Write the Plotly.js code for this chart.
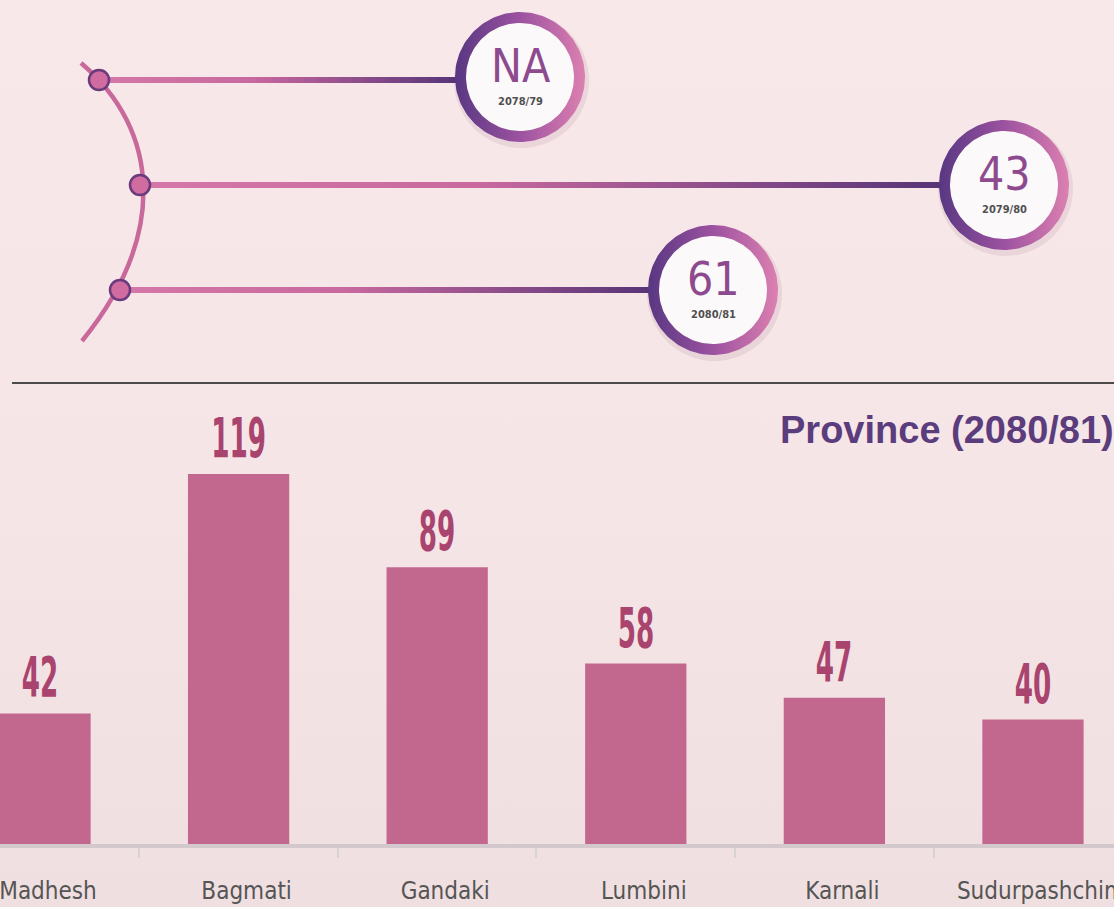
<!DOCTYPE html>
<html><head><meta charset="utf-8">
<script src="https://cdn.plot.ly/plotly-3.0.1.min.js"></script>
<style>html,body{margin:0;padding:0;} body{background:linear-gradient(#f9e8ea 0%,#f6e5e7 55%,#f0dfe0 100%);} #chart{width:1114px;height:907px;}</style>
</head><body><div id="chart"></div>
<script>
// ---- data ----
const provinces = ['Madhesh','Bagmati','Gandaki','Lumbini','Karnali','Sudurpashchim'];
const provinceValues = [42,119,89,58,47,40];
const periods = ['2078/79','2079/80','2080/81'];
const periodLabels = ['NA','43','61'];
const chartTitle = 'Province (2080/81)';

// ---- decoration geometry (pixels) ----
const W = 1114, H = 907;
const badgeCenters = [[520,77],[1004,185],[713,290]];
const dotCenters = [[99,80],[140,185],[120,290]];
const R_OUT = 65, R_IN = 54;
const NARROW = 'Liberation Sans Narrow, DejaVu Sans Condensed, Arial Narrow, sans-serif';

const traces = [];
traces.push({type:'bar', x:provinces, y:provinceValues, width:0.51,
  marker:{color:'#c2688f', line:{width:0}}, hoverinfo:'skip', xaxis:'x', yaxis:'y'});

// connector lines with gradient
badgeCenters.forEach((c,i)=>{
  const d = dotCenters[i];
  const x1 = c[0]-R_OUT+4, h = 3;
  traces.push({type:'scatter', mode:'lines', x:[d[0],x1,x1,d[0],d[0]],
    y:[d[1]-h,d[1]-h,d[1]+h,d[1]+h,d[1]-h], fill:'toself',
    fillgradient:{type:'horizontal', colorscale:[[0,'#d577a8'],[0.42,'#c9699f'],[1,'#563477']]},
    line:{width:0}, hoverinfo:'skip', xaxis:'x2', yaxis:'y2'});
});

// badge rings with gradient
badgeCenters.forEach((c)=>{
  const xs=[], ys=[], N=160;
  for(let k=0;k<=N;k++){const a=2*Math.PI*k/N; xs.push(c[0]+R_OUT*Math.cos(a)); ys.push(c[1]+R_OUT*Math.sin(a));}
  for(let k=N;k>=0;k--){const a=2*Math.PI*k/N; xs.push(c[0]+R_IN*Math.cos(a)); ys.push(c[1]+R_IN*Math.sin(a));}
  traces.push({type:'scatter', mode:'lines', x:xs, y:ys, fill:'toself',
    fillgradient:{type:'horizontal', colorscale:[[0,'#583782'],[0.5,'#9c52a0'],[1,'#dc80b0']]},
    line:{width:0}, hoverinfo:'skip', xaxis:'x2', yaxis:'y2'});
});

const shapes = [];
// separator
shapes.push({type:'line', xref:'x2', yref:'y2', x0:12, x1:W, y0:383, y1:383, line:{color:'#4d4a4b', width:2}, layer:'above'});
// badge shadows + white discs
badgeCenters.forEach((c)=>{
  shapes.push({type:'circle', xref:'x2', yref:'y2', x0:c[0]-R_OUT-1, x1:c[0]+R_OUT+4, y0:c[1]-R_OUT+1, y1:c[1]+R_OUT+6,
    fillcolor:'rgba(110,60,90,0.10)', line:{width:0}, layer:'below'});
  shapes.push({type:'circle', xref:'x2', yref:'y2', x0:c[0]-R_OUT+2, x1:c[0]+R_OUT-2, y0:c[1]-R_OUT+2, y1:c[1]+R_OUT-2,
    fillcolor:'#fcf9fa', line:{width:0}, layer:'below'});
});
// arc
shapes.push({type:'path', xref:'x2', yref:'y2', path:'M 81 63 C 160 130, 168 235, 82 341',
  line:{color:'#c8689b', width:4.5}, layer:'above'});
// dots
dotCenters.forEach((d)=>{
  shapes.push({type:'circle', xref:'x2', yref:'y2', x0:d[0]-10, x1:d[0]+10, y0:d[1]-10, y1:d[1]+10,
    fillcolor:'#d06c9f', line:{color:'#6a3a7c', width:2.5}, layer:'above'});
});

const annotations = [];
provinces.forEach((p,i)=>{
  annotations.push({xref:'x', yref:'y', x:p, y:provinceValues[i], text:String(provinceValues[i]),
    showarrow:false, yanchor:'bottom', xanchor:'center', yshift:2,
    font:{family:NARROW, size:56, color:'#a9446f', weight:'bold'}});
});
badgeCenters.forEach((c,i)=>{
  annotations.push({xref:'x2', yref:'y2', x:c[0], y:c[1]-11, text:periodLabels[i], showarrow:false,
    xanchor:'center', yanchor:'middle', font:{family:NARROW, size:46, color:'#8e4a8f'}});
  annotations.push({xref:'x2', yref:'y2', x:c[0], y:c[1]+24, text:periods[i], showarrow:false,
    xanchor:'center', yanchor:'middle', font:{family:NARROW, size:11, color:'#505050', weight:'bold'}});
});
annotations.push({xref:'x2', yref:'y2', x:778, y:430, text:chartTitle, showarrow:false,
  xanchor:'left', yanchor:'middle', font:{family:'Liberation Sans, Arial, sans-serif', size:38, color:'#5b3c7c', weight:'bold'}});

const layout = {
  width:W, height:H, margin:{l:0,r:0,t:0,b:0,pad:0},
  paper_bgcolor:'rgba(0,0,0,0)', plot_bgcolor:'rgba(0,0,0,0)', showlegend:false,
  xaxis:{type:'category', categoryorder:'array', categoryarray:provinces, range:[-0.2014,5.408],
    domain:[0,1], anchor:'y', showline:true, linecolor:'rgba(200,194,196,0.75)', linewidth:4,
    ticks:'outside', tickson:'boundaries', ticklen:10, tickwidth:2, tickcolor:'#d9d2d3',
    showgrid:false, zeroline:false, ticklabelstandoff:22, ticklabelshift:8,
    tickfont:{family:NARROW, size:24, color:'#555'}, fixedrange:true},
  yaxis:{domain:[63/907,1], range:[0,844/3.11], visible:false, anchor:'x', fixedrange:true},
  xaxis2:{domain:[0,1], range:[0,W], visible:false, anchor:'y2', fixedrange:true},
  yaxis2:{domain:[0,1], range:[H,0], visible:false, anchor:'x2', fixedrange:true},
  shapes:shapes, annotations:annotations
};
Plotly.newPlot('chart', traces, layout, {staticPlot:true, displayModeBar:false}).then((gd)=>{
  // condense the bar value labels horizontally (styling only)
  gd.querySelectorAll('.annotation').forEach((g)=>{
    const idx = +g.getAttribute('data-index');
    if(idx < provinces.length){
      const t = g.querySelector('text.annotation-text');
      if(t){ const len = t.getComputedTextLength(); t.setAttribute('textLength', (len*0.52).toFixed(1)); t.setAttribute('lengthAdjust','spacingAndGlyphs'); }
    }
  });
});
</script></body></html>
